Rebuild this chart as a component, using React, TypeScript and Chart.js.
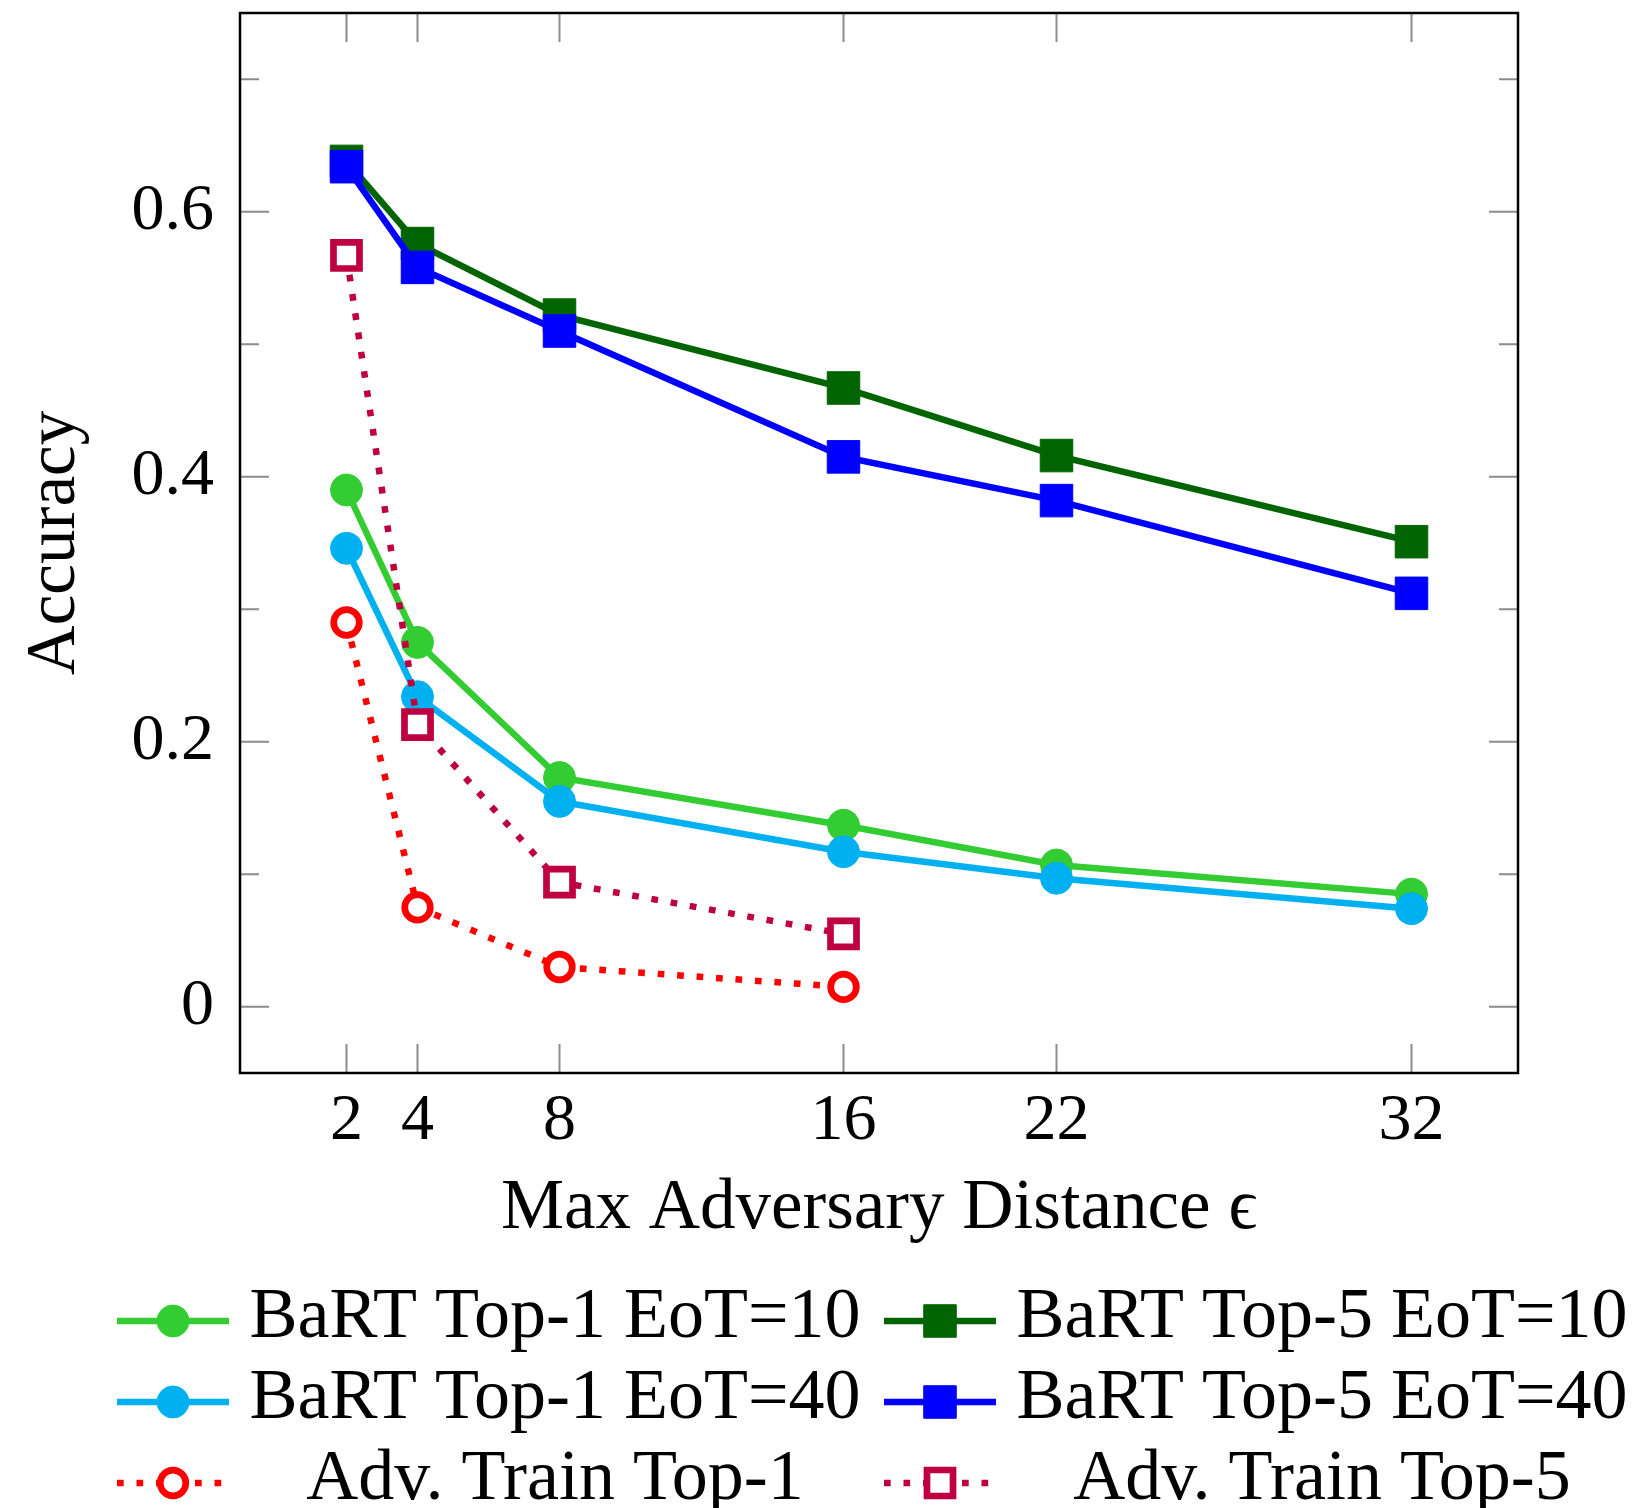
import React, { useEffect, useRef } from 'react';
import { Chart, registerables } from 'chart.js';

Chart.register(...registerables);

// ---------------- data ----------------
const epsilonValues = [2, 4, 8, 16, 22, 32];
const advEpsilonValues = [2, 4, 8, 16];
const bartTop1Eot10 = [0.39, 0.275, 0.173, 0.137, 0.107, 0.085];
const bartTop5Eot10 = [0.638, 0.576, 0.522, 0.467, 0.416, 0.351];
const bartTop1Eot40 = [0.346, 0.234, 0.155, 0.117, 0.097, 0.074];
const bartTop5Eot40 = [0.634, 0.558, 0.51, 0.415, 0.382, 0.312];
const advTrainTop1 = [0.29, 0.075, 0.03, 0.015];
const advTrainTop5 = [0.567, 0.213, 0.094, 0.055];

const seriesLabels = [
  'BaRT Top-1 EoT=10',
  'BaRT Top-5 EoT=10',
  'BaRT Top-1 EoT=40',
  'BaRT Top-5 EoT=40',
  'Adv. Train Top-1',
  'Adv. Train Top-5',
];

const xTickValues = [2, 4, 8, 16, 22, 32];
const xTickLabels = ['2', '4', '8', '16', '22', '32'];
const yMajorTicks = [0, 0.2, 0.4, 0.6];
const yTickLabels = ['0', '0.2', '0.4', '0.6'];
const yMinorTicks = [0.1, 0.3, 0.5, 0.7];

const xTitle = 'Max Adversary Distance \u03F5';
const yTitle = 'Accuracy';

// ---------------- styling / layout ----------------
const W = 1641;
const H = 1508;
const FONT = "'Liberation Serif', 'DejaVu Serif', serif";
const LINE_W = 6.5;
const DOT_DASH = [6.7, 12.8];
const PLOT_LEFT = 240;
const PLOT_RIGHT = 1518;
const PLOT_TOP = 13;
const PLOT_BOTTOM = 1073;
const X_AXIS_H = 200;

const legendRowY = [1318, 1399, 1480];
const legendLineX = [
  [117, 229],
  [884, 996],
];
const legendTextCenter = [555, 1322];

type Series = {
  color: string;
  shape: 'circle' | 'rect';
  open: boolean;
};
const seriesStyles: Series[] = [
  { color: '#33CC33', shape: 'circle', open: false },
  { color: '#006400', shape: 'rect', open: false },
  { color: '#00B0F0', shape: 'circle', open: false },
  { color: '#0000FF', shape: 'rect', open: false },
  { color: '#FF0000', shape: 'circle', open: true },
  { color: '#BF0040', shape: 'rect', open: true },
];

function pts(xs: number[], ys: number[]) {
  return xs.map((x, i) => ({ x, y: ys[i] }));
}

const seriesData = [
  pts(epsilonValues, bartTop1Eot10),
  pts(epsilonValues, bartTop5Eot10),
  pts(epsilonValues, bartTop1Eot40),
  pts(epsilonValues, bartTop5Eot40),
  pts(advEpsilonValues, advTrainTop1),
  pts(advEpsilonValues, advTrainTop5),
];

function markerRadius(s: Series) {
  if (s.shape === 'rect') return s.open ? 18.4 : 23;
  return s.open ? 12.8 : 16;
}
const OPEN_BW = 6.7;

function drawMarker(ctx: CanvasRenderingContext2D, s: Series, x: number, y: number) {
  const r = markerRadius(s);
  ctx.save();
  ctx.setLineDash([]);
  ctx.beginPath();
  if (s.shape === 'circle') {
    ctx.arc(x, y, r, 0, Math.PI * 2);
  } else {
    const h = r * Math.SQRT1_2;
    ctx.rect(x - h, y - h, 2 * h, 2 * h);
  }
  ctx.fillStyle = s.open ? '#FFFFFF' : s.color;
  ctx.fill();
  ctx.strokeStyle = s.color;
  ctx.lineWidth = s.open ? OPEN_BW : 1;
  ctx.stroke();
  ctx.restore();
}

const axisDecor = {
  id: 'axisDecor',
  beforeDatasetsDraw(chart: any) {
    const { ctx, chartArea, scales } = chart;
    const { left, right, top, bottom } = chartArea;
    const xs = scales.x;
    const ys = scales.y;
    ctx.save();
    ctx.strokeStyle = '#8C8C8C';
    ctx.lineWidth = 2;
    ctx.beginPath();
    for (const v of xTickValues) {
      const px = xs.getPixelForValue(v);
      ctx.moveTo(px, bottom);
      ctx.lineTo(px, bottom - 29);
      ctx.moveTo(px, top);
      ctx.lineTo(px, top + 29);
    }
    for (const v of yMajorTicks) {
      const py = ys.getPixelForValue(v);
      ctx.moveTo(left, py);
      ctx.lineTo(left + 29, py);
      ctx.moveTo(right, py);
      ctx.lineTo(right - 29, py);
    }
    for (const v of yMinorTicks) {
      const py = ys.getPixelForValue(v);
      ctx.moveTo(left, py);
      ctx.lineTo(left + 19, py);
      ctx.moveTo(right, py);
      ctx.lineTo(right - 19, py);
    }
    ctx.stroke();
    ctx.restore();
  },
  afterDatasetsDraw(chart: any) {
    const { ctx, chartArea } = chart;
    const { left, right, top, bottom } = chartArea;
    ctx.save();
    ctx.strokeStyle = '#000000';
    ctx.lineWidth = 2.5;
    ctx.strokeRect(left, top, right - left, bottom - top);
    ctx.restore();
  },
};

const customLegend = {
  id: 'customLegend',
  afterDraw(chart: any) {
    const { ctx } = chart;
    const datasets = chart.data.datasets;
    ctx.save();
    datasets.forEach((ds: any, i: number) => {
      const row = Math.floor(i / 2);
      const col = i % 2;
      const s = seriesStyles[i];
      const y = legendRowY[row];
      const [x0, x1] = legendLineX[col];
      const my = y + 3;
      ctx.save();
      ctx.strokeStyle = s.color;
      ctx.lineWidth = LINE_W;
      ctx.lineCap = 'butt';
      ctx.setLineDash(s.open ? DOT_DASH : []);
      ctx.beginPath();
      ctx.moveTo(x0, my);
      ctx.lineTo(x1, my);
      ctx.stroke();
      ctx.restore();
      drawMarker(ctx, s, (x0 + x1) / 2, my);
      ctx.fillStyle = '#000000';
      ctx.font = `72px ${FONT}`;
      ctx.textAlign = 'center';
      ctx.textBaseline = 'middle';
      ctx.fillText(ds.label, legendTextCenter[col], y);
    });
    ctx.restore();
  },
};

export default function App() {
  const canvasRef = useRef<HTMLCanvasElement | null>(null);

  useEffect(() => {
    const canvas = canvasRef.current;
    if (!canvas) return;
    const datasets = seriesData.map((data, i) => {
      const s = seriesStyles[i];
      return {
        label: seriesLabels[i],
        data,
        borderColor: s.color,
        backgroundColor: s.open ? '#FFFFFF' : s.color,
        borderWidth: LINE_W,
        borderDash: s.open ? DOT_DASH : [],
        borderCapStyle: 'butt' as const,
        pointStyle: s.shape,
        pointRadius: markerRadius(s),
        pointHoverRadius: markerRadius(s),
        pointBorderWidth: s.open ? OPEN_BW : 1,
        pointBorderColor: s.color,
        pointBackgroundColor: s.open ? '#FFFFFF' : s.color,
        tension: 0,
        fill: false,
        clip: false as any,
        order: seriesData.length - i,
      };
    });

    const chart = new Chart(canvas, {
      type: 'line',
      data: { datasets },
      plugins: [axisDecor, customLegend],
      options: {
        animation: false,
        responsive: false,
        devicePixelRatio: 1,
        layout: {
          autoPadding: false,
          padding: { left: 0, top: PLOT_TOP, right: W - PLOT_RIGHT, bottom: H - PLOT_BOTTOM - X_AXIS_H },
        },
        plugins: {
          legend: { display: false },
          tooltip: { enabled: false },
          title: { display: false },
        },
        scales: {
          x: {
            type: 'linear',
            min: -1,
            max: 35,
            grid: { display: false, drawTicks: false },
            border: { display: false },
            afterBuildTicks: (scale: any) => {
              scale.ticks = xTickValues.map((v) => ({ value: v }));
            },
            afterFit: (scale: any) => {
              scale.height = X_AXIS_H;
              scale.paddingLeft = 0;
              scale.paddingRight = 0;
              scale.paddingTop = 0;
              scale.paddingBottom = 0;
            },
            ticks: {
              autoSkip: false,
              maxRotation: 0,
              padding: 9,
              color: '#000000',
              font: { family: FONT, size: 66 },
              callback: (value: any) => xTickLabels[xTickValues.indexOf(Number(value))],
            },
            title: {
              display: true,
              text: xTitle,
              color: '#000000',
              font: { family: FONT, size: 71 },
              padding: { top: 0, bottom: 21 },
            },
          },
          y: {
            type: 'linear',
            min: -0.05,
            max: 0.75,
            grid: { display: false, drawTicks: false },
            border: { display: false },
            afterBuildTicks: (scale: any) => {
              scale.ticks = yMajorTicks.map((v) => ({ value: v }));
            },
            afterFit: (scale: any) => {
              scale.width = PLOT_LEFT;
              scale.paddingLeft = 0;
              scale.paddingRight = 0;
              scale.paddingTop = 0;
              scale.paddingBottom = 0;
            },
            ticks: {
              autoSkip: false,
              padding: 26,
              color: '#000000',
              font: { family: FONT, size: 66 },
              callback: (value: any) => yTickLabels[yMajorTicks.indexOf(Number(value))],
            },
            title: {
              display: true,
              text: yTitle,
              color: '#000000',
              font: { family: FONT, size: 69 },
              padding: { top: 14, bottom: 0 },
            },
          },
        },
      },
    });
    return () => chart.destroy();
  }, []);

  return (
    <div style={{ position: 'absolute', left: 0, top: 0, width: W, height: H, background: '#FFFFFF' }}>
      <canvas ref={canvasRef} width={W} height={H} style={{ display: 'block', width: W, height: H }} />
    </div>
  );
}
